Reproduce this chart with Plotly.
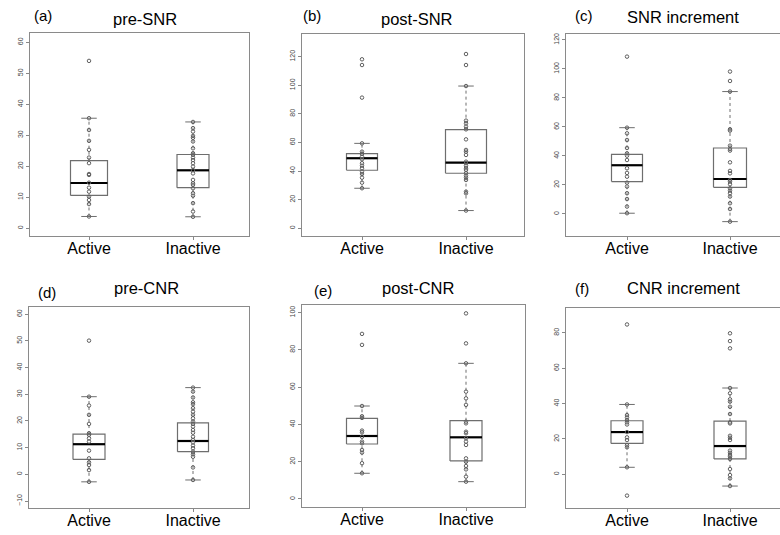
import plotly.graph_objects as go

W, H = 780, 535
groups = ["Active", "Inactive"]

# ---------------- data ----------------
# stats: [lower whisker, Q1, median, Q3, upper whisker]
pre_snr_active_stats = [3.8, 10.6, 14.6, 21.8, 35.5]
pre_snr_active_pts = [54.0, 35.5, 31.7, 28.2, 25.3, 22.8, 21.0, 17.5, 17.2, 14.7, 13.1, 11.8, 10.2, 9.1, 7.8, 3.8]
pre_snr_inactive_stats = [3.7, 13.1, 18.7, 23.8, 34.3]
pre_snr_inactive_pts = [34.3, 32.3, 31.2, 29.8, 29.2, 28.0, 25.8, 24.2, 23.7, 22.8, 22.0, 21.0, 19.9, 18.8,
                        17.7, 15.6, 14.5, 14.0, 12.9, 11.3, 10.5, 8.1, 5.4, 3.7]

post_snr_active_stats = [28.0, 40.6, 49.0, 52.2, 59.4]
post_snr_active_pts = [118.2, 114.2, 91.4, 59.4, 53.6, 52.0, 50.1, 48.3, 45.5, 43.8, 42.0, 39.6, 38.0, 35.4, 31.9, 28.0]
post_snr_inactive_stats = [12.4, 38.5, 45.9, 69.0, 99.5]
post_snr_inactive_pts = [121.9, 114.2, 99.5, 75.3, 73.4, 71.1, 69.2, 62.2, 54.8, 53.6, 51.3, 46.6, 45.5, 43.8,
                         42.0, 40.8, 38.5, 36.8, 35.4, 33.8, 25.6, 24.5, 12.4]

snr_inc_active_stats = [0.5, 22.3, 33.6, 41.1, 59.5]
snr_inc_active_pts = [108.5, 59.5, 55.6, 51.0, 45.5, 41.8, 40.2, 37.2, 31.5, 28.3, 25.7, 21.6, 18.9, 14.3, 10.3, 5.1, 0.5]
snr_inc_inactive_stats = [-5.3, 18.4, 24.1, 45.5, 84.4]
snr_inc_inactive_pts = [98.2, 91.7, 84.4, 58.4, 57.5, 47.1, 44.8, 43.7, 35.6, 29.7, 28.0, 23.4, 22.3, 20.5,
                        17.7, 16.1, 14.3, 12.0, 7.4, 3.4, -5.3]

pre_cnr_active_stats = [-2.8, 5.6, 11.3, 15.1, 29.1]
pre_cnr_active_pts = [50.1, 29.1, 25.8, 22.3, 18.9, 15.4, 14.8, 13.5, 12.3, 8.9, 6.0, 4.5, 3.5, 1.6, -2.8]
pre_cnr_inactive_stats = [-2.1, 8.5, 12.5, 19.3, 32.5]
pre_cnr_inactive_pts = [32.5, 31.0, 28.8, 27.0, 26.3, 24.8, 23.5, 22.3, 21.0, 19.8, 18.9, 17.9, 16.6, 15.6,
                        14.1, 12.9, 12.0, 10.8, 9.8, 8.5, 7.5, 6.6, 2.6, -2.1]

post_cnr_active_stats = [13.8, 29.5, 33.8, 43.3, 49.9]
post_cnr_active_pts = [88.6, 82.7, 49.9, 44.4, 43.5, 36.7, 35.8, 33.4, 30.8, 29.9, 26.3, 24.9, 19.2, 13.8]
post_cnr_inactive_stats = [9.3, 20.4, 33.1, 42.0, 72.8]
post_cnr_inactive_pts = [99.6, 83.5, 72.8, 57.6, 54.0, 50.5, 41.5, 40.6, 36.1, 35.3, 32.6, 30.8, 29.0,
                         21.8, 20.0, 17.7, 15.9, 12.0, 9.3]

cnr_inc_active_stats = [4.0, 17.5, 23.9, 30.3, 39.5]
cnr_inc_active_pts = [84.7, 39.5, 33.5, 32.2, 30.7, 29.4, 28.2, 23.9, 20.9, 19.4, 16.4, 15.3, 4.0, -12.0]
cnr_inc_inactive_stats = [-6.6, 8.7, 16.0, 30.1, 48.8]
cnr_inc_inactive_pts = [79.7, 75.3, 71.2, 48.8, 45.8, 42.4, 41.1, 38.2, 34.1, 29.4, 28.8, 21.8, 20.7, 19.4,
                        13.4, 12.2, 10.9, 10.0, 8.7, 3.0, -0.4, -2.3, -6.6]

panel_letters = ["(a)", "(b)", "(c)", "(d)", "(e)", "(f)"]
panel_titles = ["pre-SNR", "post-SNR", "SNR increment", "pre-CNR", "post-CNR", "CNR increment"]
panel_yticks = [list(range(0, 61, 10)), list(range(0, 121, 20)), list(range(0, 121, 20)),
                list(range(-10, 61, 10)), list(range(0, 101, 20)), list(range(0, 81, 20))]

panels = [
    (pre_snr_active_stats, pre_snr_active_pts, pre_snr_inactive_stats, pre_snr_inactive_pts),
    (post_snr_active_stats, post_snr_active_pts, post_snr_inactive_stats, post_snr_inactive_pts),
    (snr_inc_active_stats, snr_inc_active_pts, snr_inc_inactive_stats, snr_inc_inactive_pts),
    (pre_cnr_active_stats, pre_cnr_active_pts, pre_cnr_inactive_stats, pre_cnr_inactive_pts),
    (post_cnr_active_stats, post_cnr_active_pts, post_cnr_inactive_stats, post_cnr_inactive_pts),
    (cnr_inc_active_stats, cnr_inc_active_pts, cnr_inc_inactive_stats, cnr_inc_inactive_pts),
]

# ---------------- layout geometry / styles (pixels) ----------------
frames = [
    dict(l=30, r=249, t=33, b=236, yr=[-2.5, 63.0], ca=89, ci=193),
    dict(l=302, r=524, t=34, b=236, yr=[-5.4, 135.9], ca=362, ci=466),
    dict(l=566, r=780, t=34, b=236, yr=[-15.2, 124.1], ca=627, ci=730),
    dict(l=29, r=249, t=307, b=508, yr=[-12.6, 62.7], ca=89, ci=193),
    dict(l=302, r=525, t=305, b=507, yr=[-4.3, 104.1], ca=362, ci=466),
    dict(l=566, r=780, t=308, b=508, yr=[-19.0, 94.0], ca=627, ci=730),
]
box_widths_px = [(37, 32), (31, 41), (31, 33), (32, 31), (31, 32), (32, 32)]
letter_pos = [(43, 15), (312, 15), (584, 15), (47, 292), (323, 290), (582, 288)]
title_pos = [(145, 19), (417, 19), (683, 17), (146, 288), (418, 288), (683, 288)]

BOXC = "#6e6e6e"
PTC = "#606060"

fig = go.Figure()
layout = dict(width=W, height=H, margin=dict(l=0, r=0, t=0, b=0, autoexpand=False),
              paper_bgcolor="white", plot_bgcolor="white", showlegend=False,
              font=dict(family="Liberation Sans, Arial, sans-serif", color="black"))
annotations = []

for k, (fr, data) in enumerate(zip(frames, panels)):
    idx = "" if k == 0 else str(k + 1)
    xa, ya = "x" + idx, "y" + idx
    s = (fr["ci"] - fr["ca"])
    xr = [1 - (fr["ca"] - fr["l"]) / s, 2 + (fr["r"] - fr["ci"]) / s]
    for gi, (stats, pts) in enumerate([(data[0], data[1]), (data[2], data[3])]):
        xc = gi + 1
        wlo, q1, med, q3, whi = stats
        h = box_widths_px[k][gi] / s / 2
        c = 15.5 / s / 2
        fig.add_trace(go.Scatter(x=[xc, xc, None, xc, xc], y=[wlo, q1, None, q3, whi], mode="lines",
                                 line=dict(color=BOXC, width=1, dash="dot"), xaxis=xa, yaxis=ya,
                                 hoverinfo="skip"))
        fig.add_trace(go.Scatter(x=[xc - c, xc + c, None, xc - c, xc + c],
                                 y=[wlo, wlo, None, whi, whi], mode="lines",
                                 line=dict(color=BOXC, width=1), xaxis=xa, yaxis=ya, hoverinfo="skip"))
        fig.add_trace(go.Scatter(x=[xc - h, xc + h, xc + h, xc - h, xc - h], y=[q1, q1, q3, q3, q1],
                                 mode="lines", line=dict(color=BOXC, width=1.2), xaxis=xa, yaxis=ya,
                                 hoverinfo="skip"))
        fig.add_trace(go.Scatter(x=[xc - h, xc + h], y=[med, med], mode="lines",
                                 line=dict(color="black", width=2.2), xaxis=xa, yaxis=ya, hoverinfo="skip"))
        fig.add_trace(go.Scatter(x=[xc] * len(pts), y=pts, mode="markers",
                                 marker=dict(symbol="circle-open", size=3.5, color=PTC, line=dict(width=1)),
                                 xaxis=xa, yaxis=ya))
    xkey = "xaxis" + idx
    ykey = "yaxis" + idx
    layout[xkey] = dict(domain=[fr["l"] / W, min(fr["r"] / W, 1.0)], range=xr, anchor=ya,
                        tickvals=[1, 2], ticktext=groups, ticks="outside", ticklen=3, tickcolor="#888",
                        ticklabelstandoff=-5,
                        showline=True, mirror=True, linecolor="#8a8a8a", linewidth=1, showgrid=False,
                        zeroline=False, tickfont=dict(size=16, color="black"), fixedrange=True)
    layout[ykey] = dict(domain=[1 - fr["b"] / H, 1 - fr["t"] / H], range=fr["yr"], anchor=xa,
                        tickvals=panel_yticks[k], ticks="outside", ticklen=3, tickcolor="#888",
                        tickangle=-90, tickfont=dict(size=7, color="#444"),
                        showline=True, mirror=True, linecolor="#8a8a8a", linewidth=1, showgrid=False,
                        zeroline=False, fixedrange=True)
    lx, ly = letter_pos[k]
    tx, ty = title_pos[k]
    annotations.append(dict(text=panel_letters[k], x=lx / W, y=1 - ly / H, xref="paper", yref="paper",
                            showarrow=False, xanchor="center", yanchor="middle", font=dict(size=15)))
    annotations.append(dict(text=panel_titles[k], x=tx / W, y=1 - ty / H, xref="paper", yref="paper",
                            showarrow=False, xanchor="center", yanchor="middle", font=dict(size=16.5)))

layout["annotations"] = annotations
fig.update_layout(**layout)
fig.write_html("out.html", config={"displayModeBar": False},
               post_script="document.body.style.margin='0';document.body.style.overflow='hidden';")
